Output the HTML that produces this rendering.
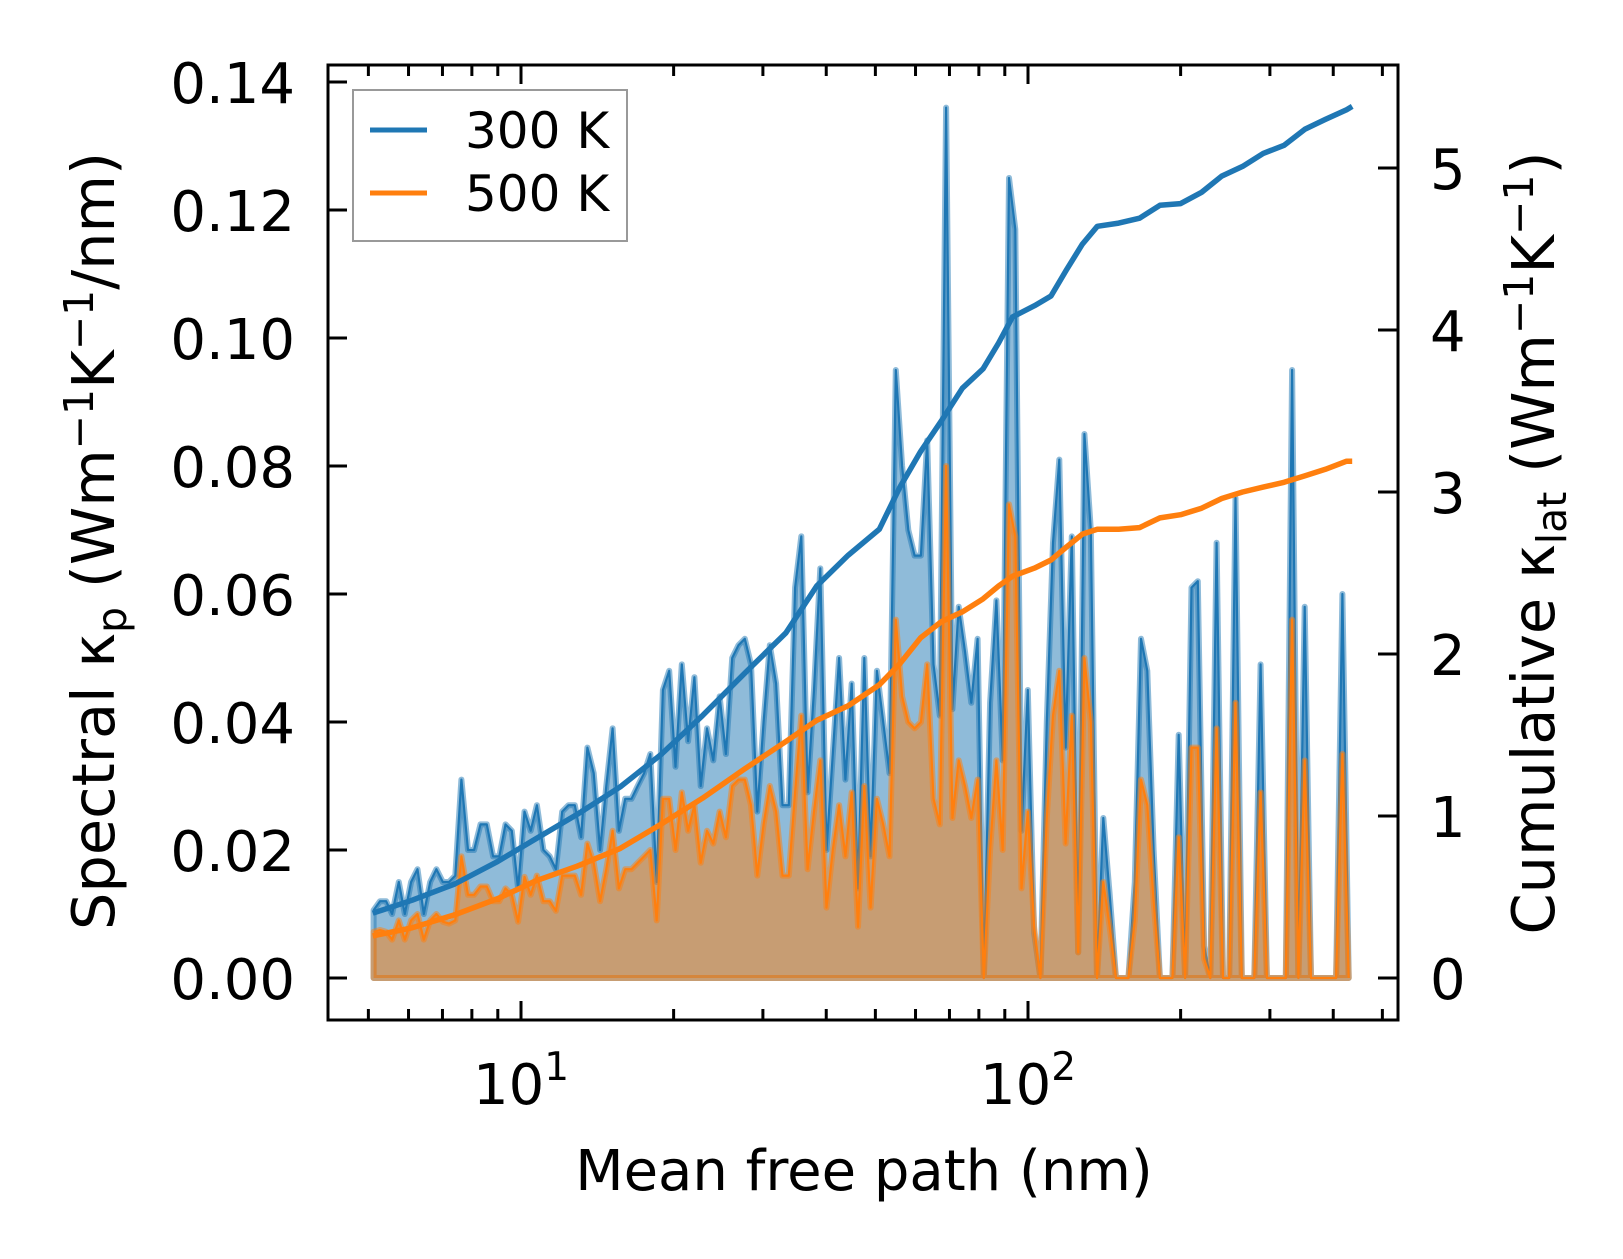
<!DOCTYPE html>
<html><head><meta charset="utf-8">
<style>
html,body{margin:0;padding:0;background:#fff;}
svg{display:block;font-family:"DejaVu Sans","Liberation Sans",sans-serif;}
</style></head>
<body>
<svg id="chart" width="1623" height="1259" viewBox="0 0 1623 1259" xmlns="http://www.w3.org/2000/svg">
<rect x="0" y="0" width="1623" height="1259" fill="#fff"/>
<g id="plot"></g>
<g id="axes"></g>
<text x="864" y="1190" font-size="56" text-anchor="middle">Mean free path (nm)</text>
<text transform="translate(114,541) rotate(-90)" font-size="59" text-anchor="middle">Spectral κ<tspan font-size="41" dy="12">p</tspan><tspan dy="-12"> (Wm</tspan><tspan font-size="41" dy="-21">−1</tspan><tspan dy="21">K</tspan><tspan font-size="41" dy="-21">−1</tspan><tspan dy="21">/nm)</tspan></text>
<text transform="translate(1554,543) rotate(-90)" font-size="59" text-anchor="middle">Cumulative κ<tspan font-size="41" dy="12">lat</tspan><tspan dy="-12"> (Wm</tspan><tspan font-size="41" dy="-21">−1</tspan><tspan dy="21">K</tspan><tspan font-size="41" dy="-21">−1</tspan><tspan dy="21">)</tspan></text>
<g>
<rect x="353" y="90" width="274" height="151" fill="#fff" fill-opacity="0.8" stroke="#999" stroke-width="2"/>
<line x1="370" y1="130" x2="427" y2="130" stroke="#1f77b4" stroke-width="5"/>
<text x="465" y="148" font-size="50">300 K</text>
<line x1="370" y1="193" x2="427" y2="193" stroke="#ff7f0e" stroke-width="5"/>
<text x="465" y="211" font-size="50">500 K</text>
</g>
</svg>
<script>
// mean free path grid (nm)
const mfp = [5.12,5.27,5.42,5.57,5.74,5.90,6.07,6.25,6.43,6.62,
6.81,7.01,7.21,7.42,7.63,7.86,8.08,8.32,8.56,8.81,
9.06,9.32,9.59,9.87,10.16,10.45,10.75,11.07,11.39,11.72,
12.06,12.41,12.77,13.14,13.52,13.91,14.32,14.73,15.16,15.60,
16.05,16.52,16.99,17.49,17.99,18.52,19.05,19.60,20.17,20.76,
21.36,21.98,22.62,23.27,23.95,24.64,25.36,26.09,26.85,27.63,
28.42,29.25,30.09,30.96,31.86,32.79,33.74,34.72,35.72,36.76,
37.83,38.93,40.05,41.21,42.41,43.64,44.91,46.21,47.55,48.93,
50.34,51.80,53.30,54.85,56.44,58.07,59.76,61.49,63.27,65.11,
66.99,68.93,70.93,72.99,75.11,77.28,79.53,81.83,84.20,86.65,
89.13,91.72,94.38,97.11,99.93,102.8,105.8,108.9,112.0,115.3,
118.6,122.0,125.6,129.2,133.0,136.8,140.8,144.9,149.1,153.4,
157.8,162.4,167.1,171.9,176.9,182.0,187.3,192.7,198.3,204.1,
210.1,216.2,222.5,228.9,235.5,242.4,249.4,256.6,264.1,271.7,
279.5,287.6,296.0,304.5,313.4,322.5,331.8,341.4,351.3,361.5,
372.0,382.8,393.9,405.3,417.0,429.1];
const spec300 = [.0106,.012,.012,.010,.015,.010,.015,.017,.010,.015,
.017,.015,.015,.016,.031,.020,.020,.024,.024,.019,
.019,.024,.023,.014,.026,.023,.027,.020,.019,.017,
.026,.027,.027,.022,.036,.032,.020,.030,.039,.023,
.028,.028,.030,.032,.035,.015,.045,.048,.033,.049,
.037,.047,.030,.039,.034,.044,.035,.050,.052,.053,
.049,.026,.040,.052,.046,.027,.027,.061,.069,.029,
.045,.064,.020,.035,.050,.031,.046,.014,.050,.019,
.048,.040,.032,.095,.080,.070,.066,.066,.084,.049,
.041,.136,.042,.058,.051,.043,.053,0,.043,.059,
.034,.125,.117,.023,.045,.007,0,.040,.068,.081,
.036,.069,.004,.085,.070,0,.025,.013,0,0,
0,.015,.053,.048,.020,0,0,0,.038,0,
.061,.062,.005,0,.068,0,0,.075,0,0,
0,.049,0,0,0,0,.095,0,.058,0,
0,0,0,0,.060,0];
const spec500 = [.0072,.0075,.0072,.006,.009,.006,.009,.010,.006,.009,
.010,.0088,.0085,.009,.019,.013,.013,.0143,.0143,.012,
.012,.014,.013,.0088,.0158,.013,.016,.012,.012,.0105,
.016,.016,.016,.013,.021,.018,.012,.017,.023,.014,
.017,.017,.018,.019,.020,.009,.028,.028,.020,.029,
.023,.027,.018,.023,.021,.026,.022,.030,.031,.031,
.027,.016,.024,.030,.026,.016,.016,.029,.041,.017,
.026,.034,.011,.020,.027,.019,.029,.008,.030,.011,
.028,.024,.019,.056,.044,.040,.039,.040,.049,.028,
.024,.080,.025,.034,.030,.025,.031,0,.020,.034,
.020,.074,.069,.014,.026,.008,0,.025,.041,.048,
.021,.041,.004,.050,.040,0,.015,.008,0,0,
0,.009,.031,.027,.012,0,0,0,.022,0,
.036,.036,.003,0,.039,0,0,.043,0,0,
0,.029,0,0,0,0,.056,0,.034,0,
0,0,0,0,.035,0];
// cumulative curves
const cumMfp = [5.1,6.1,7.4,9.0,10.7,12.9,15.7,18.9,22.8,27.6,33.3,38.3,44.2,50.9,55.9,61.4,67.5,74.2,81.5,87.5,93.2,103,111,119,128,137,151,166,182,200,220,241,265,291,320,352,386,425,436];
const cum300 = [0.40,0.48,0.58,0.72,0.86,1.01,1.18,1.38,1.62,1.88,2.13,2.42,2.61,2.77,3.03,3.25,3.44,3.64,3.76,3.92,4.08,4.15,4.21,4.37,4.53,4.64,4.66,4.69,4.77,4.78,4.85,4.95,5.01,5.09,5.14,5.24,5.30,5.36,5.38];
const cum500 = [0.26,0.31,0.39,0.49,0.60,0.69,0.80,0.95,1.11,1.29,1.46,1.59,1.68,1.81,1.94,2.10,2.20,2.26,2.34,2.42,2.48,2.53,2.58,2.66,2.74,2.77,2.77,2.78,2.84,2.86,2.90,2.96,3.00,3.03,3.06,3.10,3.14,3.19,3.19];
const yTicks = ["0.00","0.02","0.04","0.06","0.08","0.10","0.12","0.14"];
const y2Ticks = ["0","1","2","3","4","5"];

const NS = "http://www.w3.org/2000/svg";
const L = 328, R = 1398, T = 65, B = 1020;
function xs(m){ return 521 + (Math.log10(m) - 1) * 507; }
function ys(v){ return 978 - v * 6400; }
function y2s(v){ return 978 - v * 162; }
function mk(tag, attrs, parent){
  const e = document.createElementNS(NS, tag);
  for (const k in attrs) e.setAttribute(k, attrs[k]);
  parent.appendChild(e); return e;
}
const plot = document.getElementById('plot');
const axes = document.getElementById('axes');

function drawSpec(vals, color, name){
  const n = Math.min(vals.length, mfp.length);
  let pts = xs(mfp[0]).toFixed(1) + ',' + ys(0).toFixed(1);
  let line = '';
  for (let i = 0; i < n; i++){
    const p = xs(mfp[i]).toFixed(1) + ',' + ys(vals[i]).toFixed(1);
    pts += ' ' + p; line += (i ? ' ' : '') + p;
  }
  pts += ' ' + xs(mfp[n-1]).toFixed(1) + ',' + ys(0).toFixed(1);
  const area = mk('polygon', {points: pts, fill: color, 'fill-opacity': 0.5, stroke: color, 'stroke-opacity': 0.5, 'stroke-width': 6, 'stroke-linejoin': 'round'}, plot);
  
  
  const pl = mk('polyline', {points: line, fill: 'none', stroke: color, 'stroke-width': 2.2, 'stroke-linejoin': 'round'}, plot);
  
  
}
drawSpec(spec300, '#1f77b4', 'spectral-300k');
drawSpec(spec500, '#ff7f0e', 'spectral-500k');

function drawCum(vals, color, name){
  const pts = vals.map((v, i) => xs(cumMfp[i]).toFixed(1) + ',' + y2s(v).toFixed(1)).join(' ');
  const pl = mk('polyline', {points: pts, fill: 'none', stroke: color, 'stroke-width': 5.5, 'stroke-linejoin': 'round'}, plot);
  
  
}
drawCum(cum300, '#1f77b4', 'cumulative-300k-line');
drawCum(cum500, '#ff7f0e', 'cumulative-500k-line');

// frame
const frame = mk('rect', {x: L, y: T, width: R - L, height: B - T, fill: 'none', stroke: '#000', 'stroke-width': 3}, axes);



// x ticks
const decades = [1, 10, 100];
decades.forEach(d => {
  for (let j = 1; j <= 9; j++){
    const m = d * j;
    if (m < 4.2 || m > 537) continue;
    const x = xs(m), major = (j === 1), len = major ? 19 : 11;
    const tb = mk('line', {x1: x, y1: B, x2: x, y2: B - len, stroke: '#000', 'stroke-width': 3}, axes);
    
    
    const tt = mk('line', {x1: x, y1: T, x2: x, y2: T + len, stroke: '#000', 'stroke-width': 3}, axes);
    
    
    if (major){
      const t = mk('text', {x: x, y: 1104, 'font-size': 56, 'text-anchor': 'middle'}, axes);
      
      
      t.textContent = '10';
      const s = mk('tspan', {'font-size': 39, dy: -24}, t);
      s.textContent = String(Math.round(Math.log10(m)));
    }
  }
});

// left y ticks
yTicks.forEach(lbl => {
  const y = ys(parseFloat(lbl));
  const tk = mk('line', {x1: L, y1: y, x2: L + 19, y2: y, stroke: '#000', 'stroke-width': 3}, axes);
  
  
  const t = mk('text', {x: 295, y: y + 21, 'font-size': 56, 'text-anchor': 'end'}, axes);
  
  
  t.textContent = lbl;
});

// right y ticks
y2Ticks.forEach(lbl => {
  const y = y2s(parseFloat(lbl));
  const tk = mk('line', {x1: R, y1: y, x2: R - 20, y2: y, stroke: '#000', 'stroke-width': 3}, axes);
  
  
  const t = mk('text', {x: 1430, y: y + 21, 'font-size': 56}, axes);
  
  
  t.textContent = lbl;
});
</script>
</body></html>
